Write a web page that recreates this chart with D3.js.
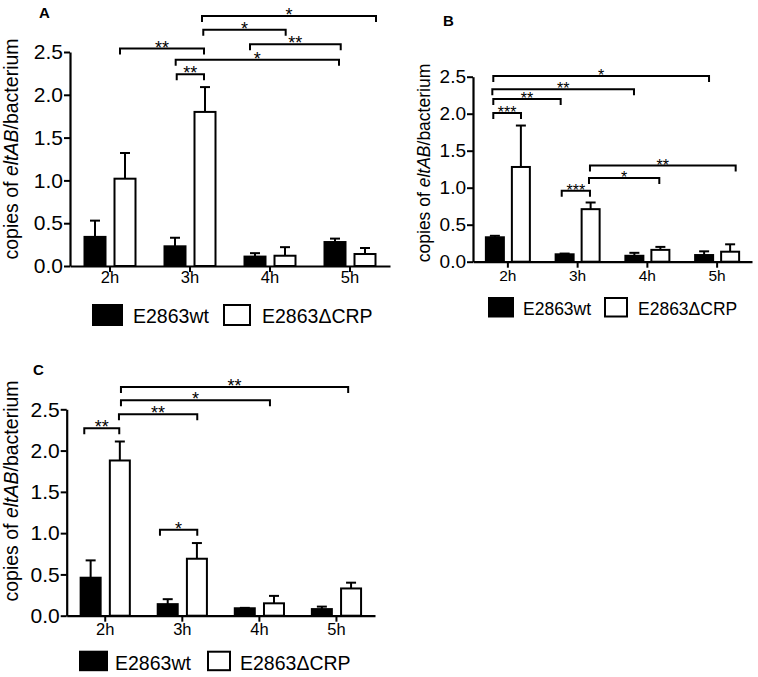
<!DOCTYPE html>
<html>
<head>
<meta charset="utf-8">
<script src="https://cdn.jsdelivr.net/npm/d3@7"></script>
<style>
  body { margin: 0; background: #fff; }
  text { font-family: 'Liberation Sans', Arial, sans-serif; fill: #000; }
</style>
</head>
<body>
<script>
// categories + series
var times = ['2h', '3h', '4h', '5h'];
var strains = ['E2863wt', 'E2863\u0394CRP'];
var yTicks = [0, 0.5, 1.0, 1.5, 2.0, 2.5];

// panel A values (mean, SD)
var aWt = [0.34, 0.23, 0.11, 0.28];
var aWtSd = [0.19, 0.10, 0.04, 0.04];
var aCrp = [1.02, 1.80, 0.12, 0.14];
var aCrpSd = [0.30, 0.29, 0.10, 0.07];

// panel B values
var bWt = [0.33, 0.10, 0.08, 0.09];
var bWtSd = [0.02, 0.01, 0.04, 0.05];
var bCrp = [1.28, 0.71, 0.16, 0.135];
var bCrpSd = [0.56, 0.09, 0.04, 0.10];

// panel C values
var cWt = [0.46, 0.14, 0.09, 0.08];
var cWtSd = [0.21, 0.06, 0.005, 0.03];
var cCrp = [1.88, 0.69, 0.15, 0.33];
var cCrpSd = [0.23, 0.19, 0.09, 0.07];

// significance brackets: from/to in category units (0..4), y in data units
var aBrackets = [
    {from: 1.65, to: 3.825, y: 2.92, label: '*'},
    {from: 1.666, to: 2.696, y: 2.76, label: '*'},
    {from: 0.625, to: 1.675, y: 2.54, label: '**'},
    {from: 2.25, to: 3.384, y: 2.59, label: '**'},
    {from: 1.321, to: 3.3625, y: 2.41, label: '*'},
    {from: 1.334, to: 1.675, y: 2.24, label: '**'}
];
var bBrackets = [
    {from: 0.291, to: 3.384, y: 2.51, label: '*'},
    {from: 0.277, to: 2.308, y: 2.33, label: '**'},
    {from: 0.291, to: 1.257, y: 2.20, label: '**'},
    {from: 0.291, to: 0.688, y: 2.01, label: '***'},
    {from: 1.677, to: 3.766, y: 1.30, label: '**'},
    {from: 1.663, to: 2.671, y: 1.13, label: '*'},
    {from: 1.272, to: 1.677, y: 0.96, label: '***'}
];
var cBrackets = [
    {from: 0.704, to: 3.652, y: 2.77, label: '**'},
    {from: 0.704, to: 2.637, y: 2.61, label: '*'},
    {from: 0.678, to: 1.694, y: 2.44, label: '**'},
    {from: 0.228, to: 0.682, y: 2.27, label: '**'},
    {from: 1.21, to: 1.694, y: 1.04, label: '*'}
];

var svg = d3.select('body').append('svg')
    .attr('width', 758)
    .attr('height', 677);

// layout for each panel
var panels = [
    {name: 'A', wt: aWt, wtSd: aWtSd, crp: aCrp, crpSd: aCrpSd, brackets: aBrackets,
     x0: 70, x1: 390, yBottom: 266, yTop: 52, barW: 21, off: 15,
     tickFont: 21, xFont: 16.5, xLabelY: 283, labelFont: 19.5, labelX: 18, labelY: 149,
     titleX: 39, titleY: 18, starFont: 18,
     legY: 305, legH: 20, legBox: [[93, 29], [224, 26]], legText: [133, 262], legFont: 19.5, legBase: 323},
    {name: 'B', wt: bWt, wtSd: bWtSd, crp: bCrp, crpSd: bCrpSd, brackets: bBrackets,
     x0: 473, x1: 752, yBottom: 261.7, yTop: 76.7, barW: 18, off: 13,
     tickFont: 19, xFont: 15.5, xLabelY: 281, labelFont: 17.5, labelX: 430, labelY: 163,
     titleX: 443, titleY: 26, starFont: 16,
     legY: 298, legH: 18.5, legBox: [[489, 24], [605, 22]], legText: [523, 638], legFont: 17.5, legBase: 315},
    {name: 'C', wt: cWt, wtSd: cWtSd, crp: cCrp, crpSd: cCrpSd, brackets: cBrackets,
     x0: 66.7, x1: 375, yBottom: 615.7, yTop: 409.3, barW: 20, off: 14.6,
     tickFont: 21, xFont: 16.5, xLabelY: 635, labelFont: 19.5, labelX: 18, labelY: 491,
     titleX: 33, titleY: 375, starFont: 18,
     legY: 651.7, legH: 18.5, legBox: [[80, 27], [208, 22]], legText: [115, 240], legFont: 19.5, legBase: 670}
];

panels.forEach(function(p) {
    var g = svg.append('g').attr('class', 'panel');

    var xScale = d3.scaleBand().domain(times).range([p.x0, p.x1]);
    var xSub = d3.scalePoint().domain(strains).range([-p.off, p.off]);
    var uScale = d3.scaleLinear().domain([0, 4]).range([p.x0, p.x1]);
    var yScale = d3.scaleLinear().domain([0, 2.5]).range([p.yBottom, p.yTop]);

    // rows: one per bar
    var rows = [];
    times.forEach(function(t, i) {
        rows.push({time: t, strain: strains[0], mean: p.wt[i], sd: p.wtSd[i]});
        rows.push({time: t, strain: strains[1], mean: p.crp[i], sd: p.crpSd[i]});
    });
    function cx(d) { return xScale(d.time) + xScale.bandwidth() / 2 + xSub(d.strain); }

    // error bars (upper only)
    var err = g.selectAll('.err').data(rows).enter().append('g').attr('class', 'err');
    err.append('line')
        .attr('x1', cx).attr('x2', cx)
        .attr('y1', d => yScale(d.mean))
        .attr('y2', d => yScale(d.mean + d.sd))
        .attr('stroke', '#000').attr('stroke-width', 2);
    err.append('line')
        .attr('x1', d => cx(d) - 5).attr('x2', d => cx(d) + 5)
        .attr('y1', d => yScale(d.mean + d.sd))
        .attr('y2', d => yScale(d.mean + d.sd))
        .attr('stroke', '#000').attr('stroke-width', 2);

    // bars
    g.selectAll('.bar').data(rows).enter().append('rect')
        .attr('class', 'bar')
        .attr('x', d => cx(d) - p.barW / 2)
        .attr('width', p.barW)
        .attr('y', d => yScale(d.mean))
        .attr('height', d => yScale(0) - yScale(d.mean))
        .attr('fill', d => d.strain === strains[0] ? '#000' : '#fff')
        .attr('stroke', '#000')
        .attr('stroke-width', 2);

    // axes
    var yAxis = g.append('g')
        .attr('transform', 'translate(' + p.x0 + ',0)')
        .call(d3.axisLeft(yScale).tickValues(yTicks).tickFormat(d3.format('.1f'))
            .tickSize(6).tickSizeOuter(0).tickPadding(1));
    yAxis.selectAll('text').style('font-size', p.tickFont + 'px')
        .style('font-family', "'Liberation Sans', Arial, sans-serif");

    var xAxis = g.append('g')
        .attr('transform', 'translate(0,' + p.yBottom + ')')
        .call(d3.axisBottom(xScale).tickSize(6).tickSizeOuter(0));
    xAxis.selectAll('text').remove();
    [yAxis, xAxis].forEach(function(a) {
        a.select('.domain').attr('stroke-width', 2.2);
        a.selectAll('.tick line').attr('stroke-width', 2);
    });

    g.selectAll('.xlab').data(times).enter().append('text')
        .attr('x', d => xScale(d) + xScale.bandwidth() / 2)
        .attr('y', p.xLabelY)
        .attr('text-anchor', 'middle')
        .style('font-size', p.xFont + 'px')
        .text(d => d);

    // y axis label
    var yl = g.append('text')
        .attr('transform', 'translate(' + p.labelX + ',' + p.labelY + ') rotate(-90)')
        .attr('text-anchor', 'middle')
        .style('font-size', p.labelFont + 'px');
    yl.append('tspan').text('copies of ');
    yl.append('tspan').style('font-style', 'italic').text('eltAB');
    yl.append('tspan').text('/bacterium');

    // panel letter
    g.append('text')
        .attr('x', p.titleX).attr('y', p.titleY)
        .style('font-size', '15px').style('font-weight', 'bold')
        .text(p.name);

    // significance brackets
    var br = g.selectAll('.bracket').data(p.brackets).enter().append('g').attr('class', 'bracket');
    br.append('path')
        .attr('d', function(d) {
            var y = yScale(d.y);
            return 'M' + uScale(d.from) + ',' + (y + 6) + 'V' + y + 'H' + uScale(d.to) + 'V' + (y + 6);
        })
        .attr('fill', 'none')
        .attr('stroke', '#000')
        .attr('stroke-width', 2);
    br.append('text')
        .attr('x', d => (uScale(d.from) + uScale(d.to)) / 2)
        .attr('y', d => yScale(d.y) + 5)
        .attr('text-anchor', 'middle')
        .style('font-size', p.starFont + 'px')
        .text(d => d.label);

    // legend
    var leg = g.selectAll('.legend').data(strains).enter().append('g').attr('class', 'legend');
    leg.append('rect')
        .attr('x', (d, i) => p.legBox[i][0])
        .attr('y', p.legY)
        .attr('width', (d, i) => p.legBox[i][1])
        .attr('height', p.legH)
        .attr('fill', (d, i) => i === 0 ? '#000' : '#fff')
        .attr('stroke', '#000')
        .attr('stroke-width', 2);
    leg.append('text')
        .attr('x', (d, i) => p.legText[i])
        .attr('y', p.legBase)
        .style('font-size', p.legFont + 'px')
        .text(d => d);
});
</script>
</body>
</html>
